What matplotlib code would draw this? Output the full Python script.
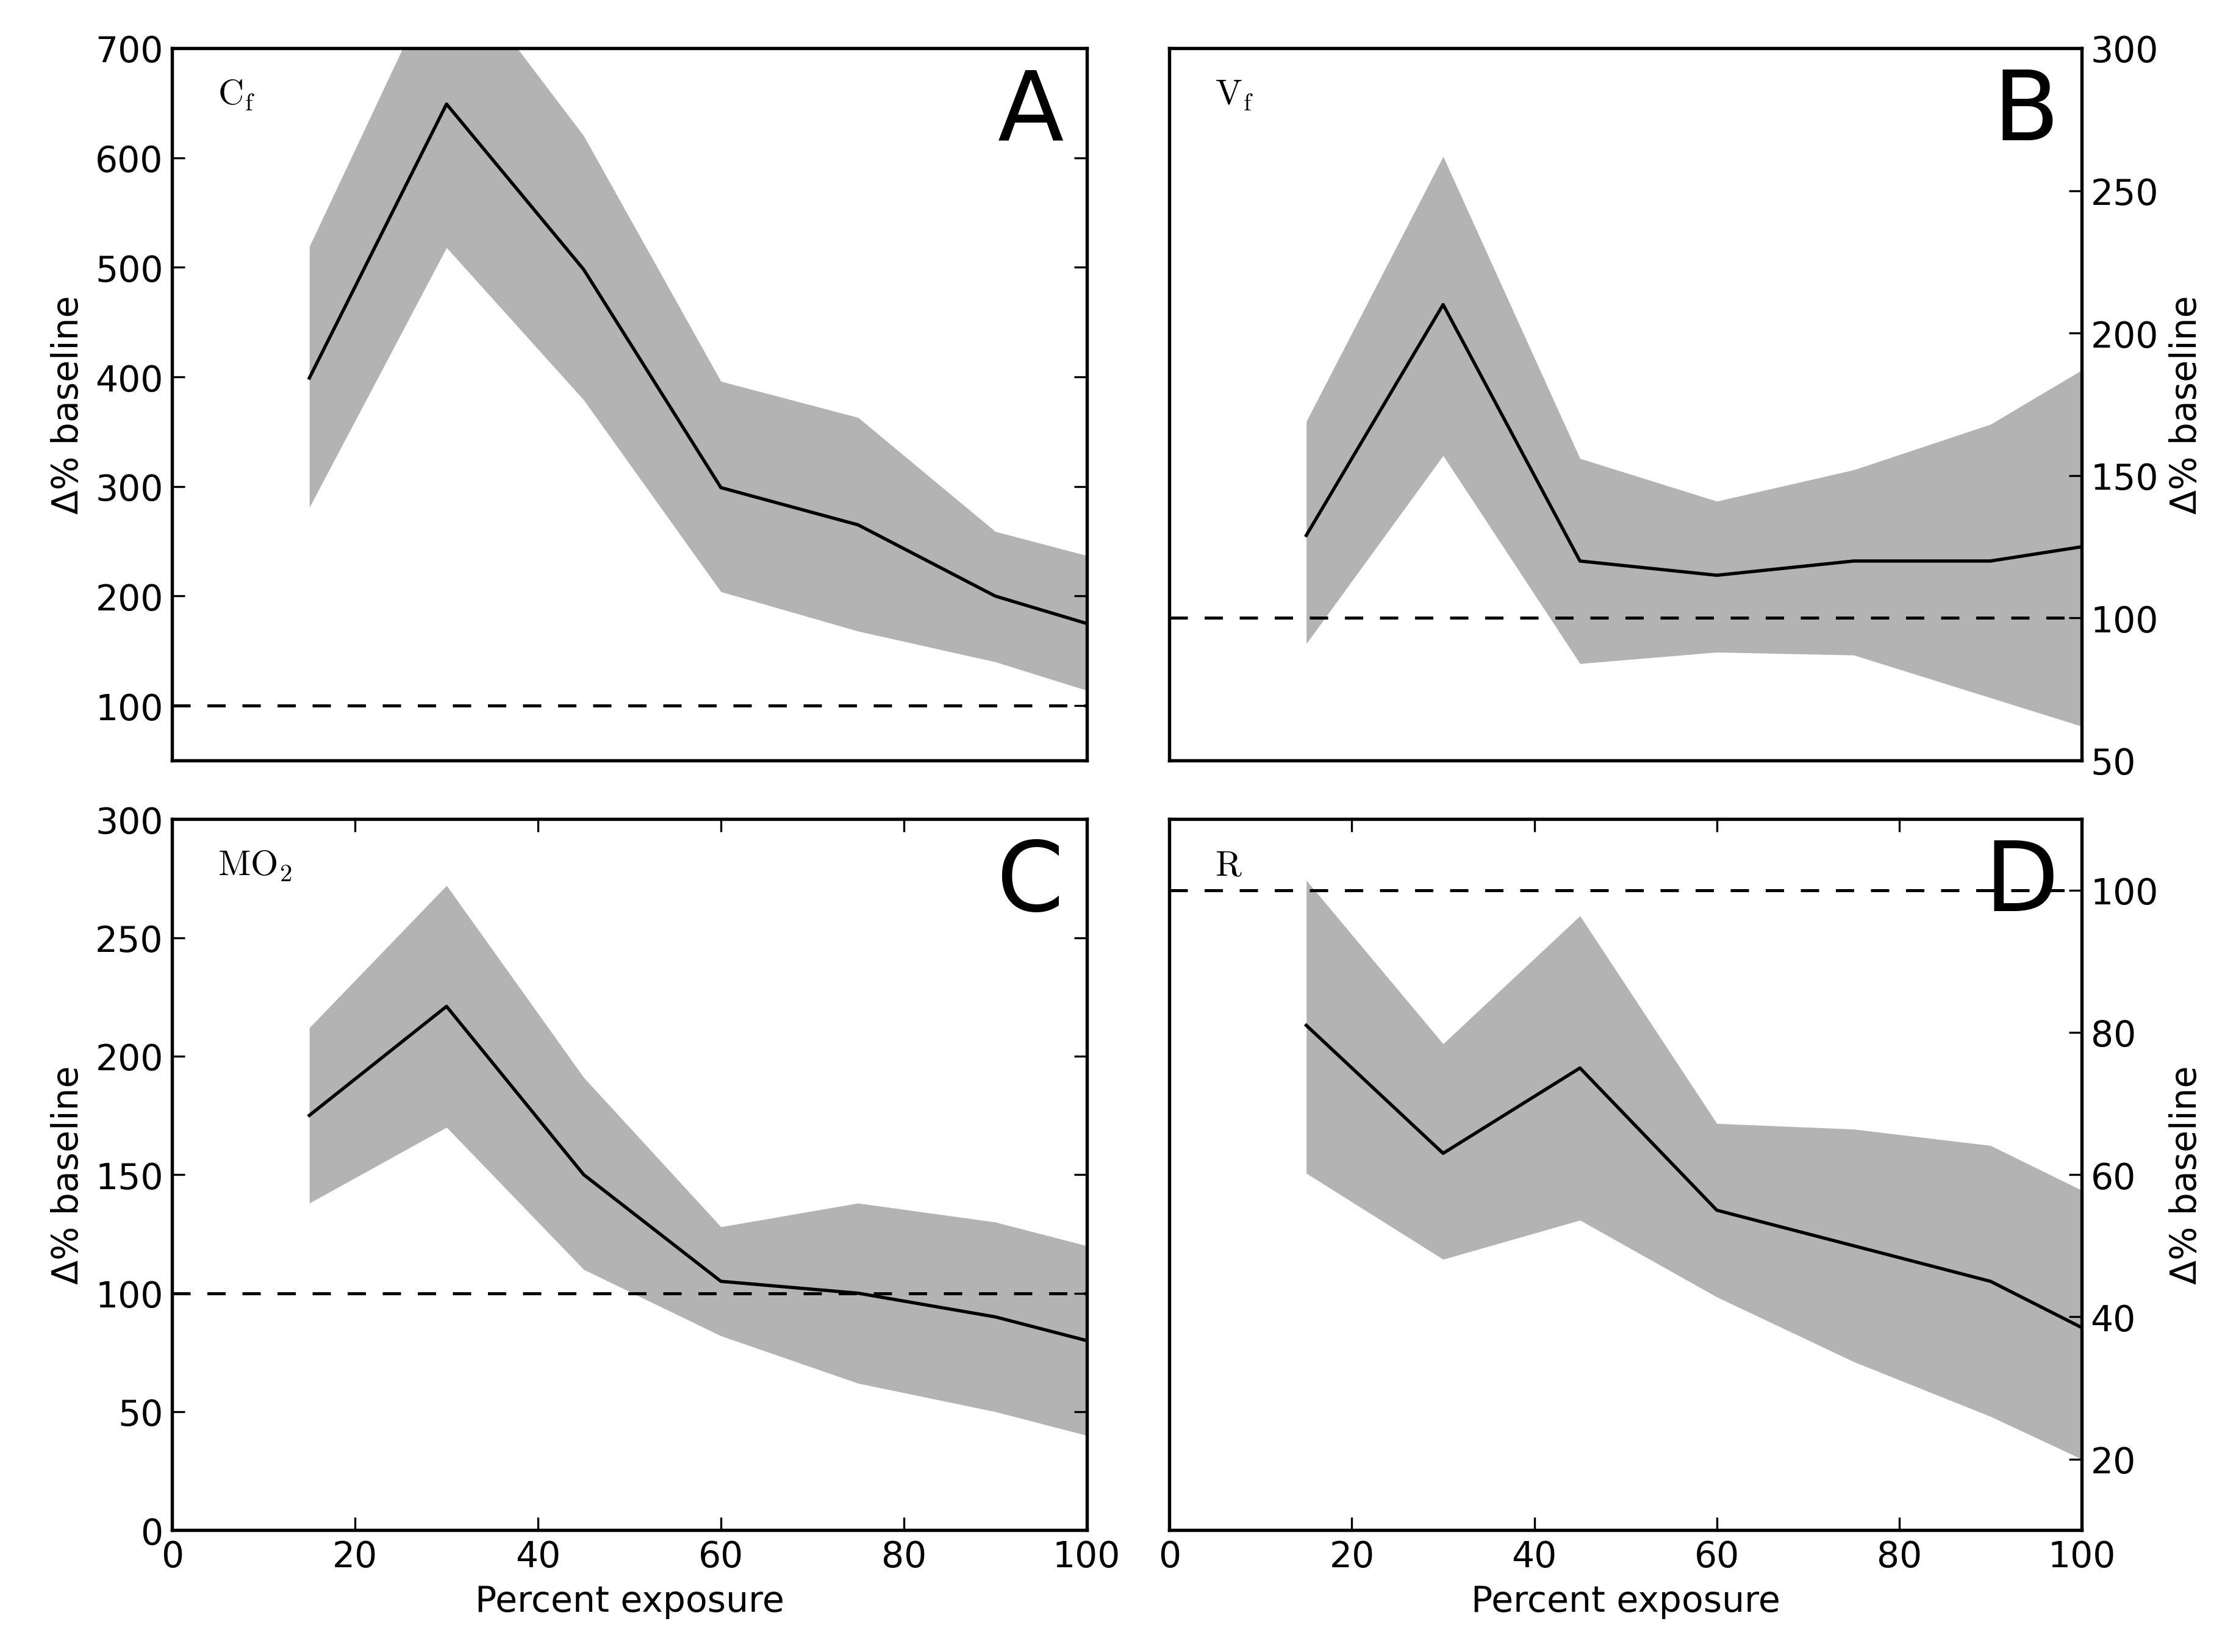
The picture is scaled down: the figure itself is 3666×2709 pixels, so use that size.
import numpy as np
import matplotlib
matplotlib.use('Agg')
import matplotlib.pyplot as plt

plt.rcParams['font.family'] = ['DejaVu Sans']
plt.rcParams['mathtext.fontset'] = 'cm'
plt.rcParams['xtick.direction'] = 'in'
plt.rcParams['ytick.direction'] = 'in'
plt.rcParams['xtick.top'] = True
plt.rcParams['ytick.right'] = True

# percent exposure
exposure = [15, 30, 45, 60, 75, 90, 100]

# A: Cf
cf_mean = [399, 649, 498, 299, 265, 200, 175]
cf_upper = [519, 785, 620, 396, 363, 259, 237]
cf_lower = [281, 518, 379, 204, 168, 140, 114]

# B: Vf
vf_mean = [129, 210, 120, 115, 120, 120, 125]
vf_upper = [169, 262, 156, 141, 152, 168, 187]
vf_lower = [91, 157, 84, 88, 87, 72, 62]

# C: MO2
mo2_mean = [175, 221, 150, 105, 100, 90, 80]
mo2_upper = [212, 272, 191, 128, 138, 130, 120]
mo2_lower = [138, 170, 110, 82, 62, 50, 40]

# D: R
r_mean = [81, 63, 75, 55, 50, 45, 38.5]
r_upper = [101.4, 78.4, 96.4, 67.2, 66.4, 64.1, 57.8]
r_lower = [60.2, 48.1, 53.6, 42.8, 33.7, 26, 20]

panels = [
    ('A', r'$\mathrm{C_f}$', cf_mean, cf_upper, cf_lower, (50, 700), np.arange(100, 701, 100), 'left'),
    ('B', r'$\mathrm{V_f}$', vf_mean, vf_upper, vf_lower, (50, 300), np.arange(50, 301, 50), 'right'),
    ('C', r'$\mathrm{MO_2}$', mo2_mean, mo2_upper, mo2_lower, (0, 300), np.arange(0, 301, 50), 'left'),
    ('D', r'$\mathrm{R}$', r_mean, r_upper, r_lower, (10, 110), np.arange(20, 101, 20), 'right'),
]

fig = plt.figure(figsize=(12.22, 9.033), dpi=300)
fig.patch.set_facecolor('white')
boxes = [
    [0.077, 0.5395, 0.409, 0.431],
    [0.523, 0.5395, 0.408, 0.431],
    [0.077, 0.0737, 0.409, 0.4303],
    [0.523, 0.0737, 0.408, 0.4303],
]

for i, (letter, name, mean, upper, lower, ylim, yticks, side) in enumerate(panels):
    ax = fig.add_axes(boxes[i])
    ax.fill_between(exposure, lower, upper, color='#b3b3b3', linewidth=0)
    ax.plot(exposure, mean, color='black', lw=1.3)
    ax.axhline(100, color='black', lw=1.2, ls='--', dashes=(6, 5.5))
    ax.set_xlim(0, 100)
    ax.set_ylim(*ylim)
    ax.set_yticks(yticks)
    ax.set_xticks(np.arange(0, 101, 20))
    ax.tick_params(labelsize=14, length=5, width=0.8)
    for s in ax.spines.values():
        s.set_linewidth(1.3)
    if side == 'right':
        ax.tick_params(left=False, labelleft=False, labelright=True)
        ax.yaxis.set_label_position('right')
    ax.set_ylabel(u'\u0394% baseline', fontsize=14)
    if i < 2:
        ax.tick_params(axis='x', bottom=False, top=False, labelbottom=False)
    else:
        ax.set_xlabel('Percent exposure', fontsize=14)
    ax.text(0.975, 0.975, letter, transform=ax.transAxes, ha='right', va='top',
            fontsize=38)
    ax.text(0.05, 0.935, name, transform=ax.transAxes, ha='left', va='center',
            fontsize=14)

plt.savefig('out.png', dpi=300, facecolor='white')
